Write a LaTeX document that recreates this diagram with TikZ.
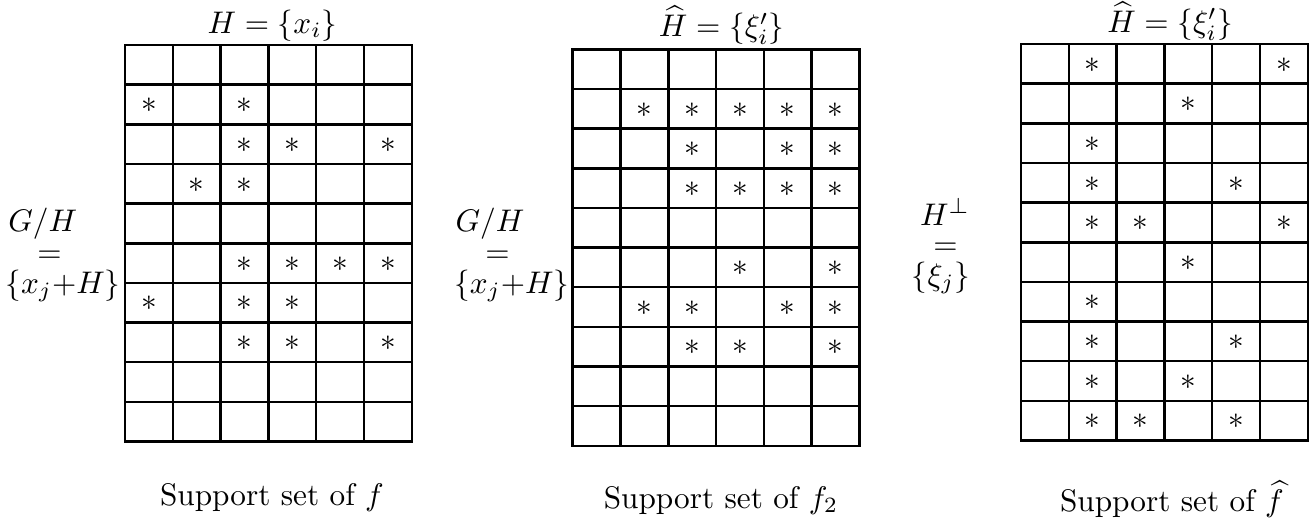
\documentclass[tikz,border=0pt]{standalone}
\usepackage{amsmath}
\tikzset{
  gridline/.style={line width=0.8pt, line cap=rect},
  starmark/.style={inner sep=0pt, anchor=center},
  lbl/.style={inner sep=0pt, anchor=base},
}
\newcommand\supgrid[4]{% name, x0, y0, stars (row/col)
  \foreach \i in {0,...,6}
    \draw[gridline] ({#2+\i*47.8},#3) -- ({#2+\i*47.8},{#3+396.5});
  \foreach \j in {0,...,10}
    \draw[gridline] (#2,{#3+\j*39.65}) -- ({#2+286.8},{#3+\j*39.65});
  \foreach \r/\c in {#4}
    \node[starmark] (#1-\r-\c) at ({#2+(\c-0.5)*47.8},{#3+(\r-0.5)*39.65+1}) {$*$};
}
\begin{document}
\begin{tikzpicture}[x=0.32pt,y=-0.32pt]
\useasboundingbox (0,0) rectangle (1315,522);
% grid 1
\supgrid{ga}{125}{45}{2/1,2/3,3/3,3/4,3/6,4/2,4/3,6/3,6/4,6/5,6/6,7/1,7/3,7/4,8/3,8/4,8/6}
% grid 2
\supgrid{gb}{572.7}{49.3}{2/2,2/3,2/4,2/5,2/6,3/3,3/5,3/6,4/3,4/4,4/5,4/6,6/4,6/6,7/2,7/3,7/5,7/6,8/3,8/4,8/6}
% grid 3
\supgrid{gc}{1021}{44}{1/2,1/6,2/4,3/2,4/2,4/5,5/2,5/3,5/6,6/4,7/2,8/2,8/5,9/2,9/4,10/2,10/3,10/5}
% titles
\node[lbl] (ta) at (272.5,33.3) {$H=\{x_i\}$};
\node[lbl] (tb) at (721.7,36.7) {$\widehat{H}=\{\xi'_i\}$};
\node[lbl] (tc) at (1170,32.3) {$\widehat{H}=\{\xi'_i\}$};
% left labels grid 1
\node[lbl] (la1) at (42.7,231.7) {$G/H$};
\node[lbl] (la2) at (49.5,262.5) {$=$};
\node[lbl] (la3) at (63,293.3) {$\{x_j{+}H\}$};
% left labels grid 2
\node[lbl] (lb1) at (490,231.7) {$G/H$};
\node[lbl] (lb2) at (497.5,262.5) {$=$};
\node[lbl] (lb3) at (511.7,293.3) {$\{x_j{+}H\}$};
% left labels grid 3
\node[lbl] (lc1) at (945,225) {$H^{\perp}$};
\node[lbl] (lc2) at (945.5,254.8) {$=$};
\node[lbl] (lc3) at (941,285) {$\{\xi_j\}$};
% captions
\node[lbl] (ca) at (272,505) {Support set of $f$};
\node[lbl] (cb) at (721,508) {Support set of $f_2$};
\node[lbl] (cc) at (1172,511.7) {Support set of $\widehat{f}$};
\end{tikzpicture}
\end{document}
